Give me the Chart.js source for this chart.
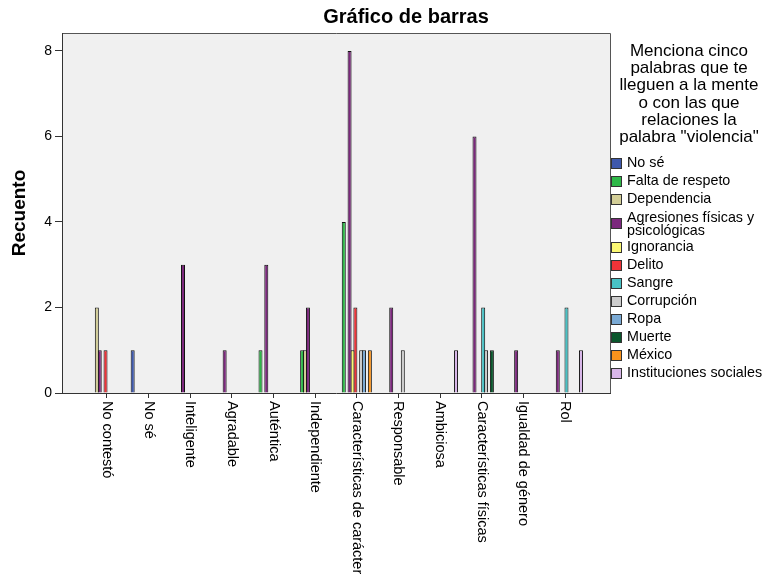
<!DOCTYPE html>
<html>
<head>
<meta charset="utf-8">
<script src="https://cdn.jsdelivr.net/npm/chart.js@4.4.1/dist/chart.umd.min.js"></script>
<style>
  html, body { margin: 0; padding: 0; background: #fff; }
</style>
</head>
<body>
<canvas id="barChart" width="767" height="575"></canvas>
<script>
// Categories on the x axis
const categories = [
    'No contestó', 'No sé', 'Inteligente', 'Agradable', 'Auténtica', 'Independiente',
    'Características de carácter', 'Responsable', 'Ambiciosa', 'Características físicas',
    'Igualdad de género', 'Rol'
];

// Series (legend entries) and their colours
const seriesNames = [
    'No sé', 'Falta de respeto', 'Dependencia', 'Agresiones físicas y psicológicas',
    'Ignorancia', 'Delito', 'Sangre', 'Corrupción', 'Ropa', 'Muerte', 'México',
    'Instituciones sociales'
];
const seriesColors = [
    '#3e58ac', '#2eb848', '#d3ce97', '#7c287d', '#fbf873', '#ef3338',
    '#48c2c5', '#cccccc', '#7aaad5', '#0a562c', '#f8931d', '#d8b6e9'
];

// Counts, one value per category
const noSe          = [0, 1, 0, 0, 0, 0, 0, 0, 0, 0, 0, 0];
const faltaRespeto  = [0, 0, 0, 0, 1, 1, 4, 0, 0, 0, 0, 0];
const dependencia   = [2, 0, 0, 0, 0, 1, 0, 0, 0, 0, 0, 0];
const agresiones    = [1, 0, 3, 1, 3, 2, 8, 2, 0, 6, 1, 1];
const ignorancia    = [0, 0, 0, 0, 0, 0, 1, 0, 0, 0, 0, 0];
const delito        = [1, 0, 0, 0, 0, 0, 2, 0, 0, 0, 0, 0];
const sangre        = [0, 0, 0, 0, 0, 0, 0, 0, 0, 2, 0, 2];
const corrupcion    = [0, 0, 0, 0, 0, 0, 1, 1, 0, 1, 0, 0];
const ropa          = [0, 0, 0, 0, 0, 0, 1, 0, 0, 0, 0, 0];
const muerte        = [0, 0, 0, 0, 0, 0, 0, 0, 0, 1, 0, 0];
const mexico        = [0, 0, 0, 0, 0, 0, 1, 0, 0, 0, 0, 0];
const instituciones = [0, 0, 0, 0, 0, 0, 0, 0, 1, 0, 0, 1];

const seriesValues = [noSe, faltaRespeto, dependencia, agresiones, ignorancia, delito,
    sangre, corrupcion, ropa, muerte, mexico, instituciones];

const yTicks = [0, 2, 4, 6, 8];

const FONT = '"Liberation Sans", Arial, sans-serif';
const legendTitle = ['Menciona cinco', 'palabras que te', 'lleguen a la mente',
    'o con las que', 'relaciones la', 'palabra "violencia"'];
const legendLines = [['No sé'], ['Falta de respeto'], ['Dependencia'],
    ['Agresiones físicas y', 'psicológicas'], ['Ignorancia'], ['Delito'], ['Sangre'],
    ['Corrupción'], ['Ropa'], ['Muerte'], ['México'], ['Instituciones sociales']];

const datasets = seriesNames.map((name, s) => ({
    label: name,
    data: seriesValues[s].map(v => (v === 0 ? null : v)),
    backgroundColor: seriesColors[s],
    borderColor: '#111',
    borderWidth: 1,
    categoryPercentage: 0.835,
    barPercentage: 1.38
}));

// Plot background and frame, title, rotated category labels, legend
const spssDecor = {
    id: 'spssDecor',
    beforeDraw(chart) {
        const { ctx, chartArea: a } = chart;
        ctx.save();
        ctx.fillStyle = '#f0f0f0';
        ctx.fillRect(a.left, a.top, a.right - a.left, a.bottom - a.top);
        ctx.strokeStyle = '#555';
        ctx.lineWidth = 1;
        ctx.beginPath();
        ctx.moveTo(a.left, a.top + 0.5);
        ctx.lineTo(a.right + 0.5, a.top + 0.5);
        ctx.lineTo(a.right + 0.5, a.bottom);
        ctx.stroke();
        ctx.restore();
    },
    afterDraw(chart) {
        const { ctx, chartArea: a } = chart;
        const xs = chart.scales.x;
        ctx.save();
        ctx.fillStyle = '#000';

        // chart title
        ctx.font = 'bold 20px ' + FONT;
        ctx.textAlign = 'center';
        ctx.textBaseline = 'alphabetic';
        ctx.fillText('Gráfico de barras', 406, 22.5);

        // category labels, reading top to bottom
        ctx.font = '14.5px ' + FONT;
        ctx.textAlign = 'left';
        ctx.textBaseline = 'middle';
        categories.forEach((c, i) => {
            ctx.save();
            ctx.translate(xs.getPixelForValue(i), a.bottom + 8);
            ctx.rotate(Math.PI / 2);
            ctx.fillText(c, 0, 0);
            ctx.restore();
        });

        // legend title
        ctx.font = '17px ' + FONT;
        ctx.textAlign = 'center';
        ctx.textBaseline = 'alphabetic';
        legendTitle.forEach((t, i) => ctx.fillText(t, 689, 56 + i * 17.2));

        // legend items
        ctx.font = '14.3px ' + FONT;
        ctx.textAlign = 'left';
        ctx.textBaseline = 'middle';
        let y = 163;
        legendLines.forEach((lines, i) => {
            if (lines.length > 1) y += 6;
            ctx.fillStyle = seriesColors[i];
            ctx.fillRect(611, Math.round(y - 5.5), 11, 11);
            ctx.strokeStyle = '#333';
            ctx.strokeRect(611.5, Math.round(y - 5.5) + 0.5, 10, 10);
            ctx.fillStyle = '#000';
            if (lines.length > 1) {
                ctx.fillText(lines[0], 627, y - 5);
                ctx.fillText(lines[1], 627, y + 8);
            } else {
                ctx.fillText(lines[0], 627, y + 0.5);
            }
            y += 18 + (lines.length > 1 ? 6 : 0);
        });
        ctx.restore();
    }
};

const config = {
    type: 'bar',
    data: {
        labels: categories.map((c, i) => i),
        datasets: datasets
    },
    options: {
        responsive: false,
        animation: false,
        layout: {
            padding: { top: 33, right: 157, bottom: 0, left: 0 }
        },
        plugins: {
            legend: { display: false },
            title: { display: false },
            tooltip: { enabled: false }
        },
        scales: {
            x: {
                type: 'linear',
                min: -1.08,
                max: 12.08,
                offset: false,
                afterBuildTicks: scale => {
                    scale.ticks = categories.map((c, i) => ({ value: i }));
                },
                afterFit: scale => { scale.height = 182; },
                ticks: { display: false },
                grid: {
                    offset: false,
                    drawOnChartArea: false,
                    tickLength: 5,
                    color: '#333'
                },
                border: { color: '#333' }
            },
            y: {
                min: 0,
                max: 8.42,
                afterBuildTicks: scale => {
                    scale.ticks = yTicks.map(v => ({ value: v }));
                },
                afterFit: scale => { scale.width = 62; },
                ticks: {
                    color: '#000',
                    padding: 3,
                    font: { size: 14, family: FONT }
                },
                grid: {
                    drawOnChartArea: false,
                    tickLength: 7,
                    color: '#333'
                },
                border: { color: '#333' },
                title: {
                    display: true,
                    text: 'Recuento',
                    color: '#000',
                    font: { size: 19, weight: 'bold', family: FONT },
                    padding: { top: 8.5, bottom: 0 }
                }
            }
        }
    },
    plugins: [spssDecor]
};

const ctx = document.getElementById('barChart').getContext('2d');
new Chart(ctx, config);
</script>
</body>
</html>
